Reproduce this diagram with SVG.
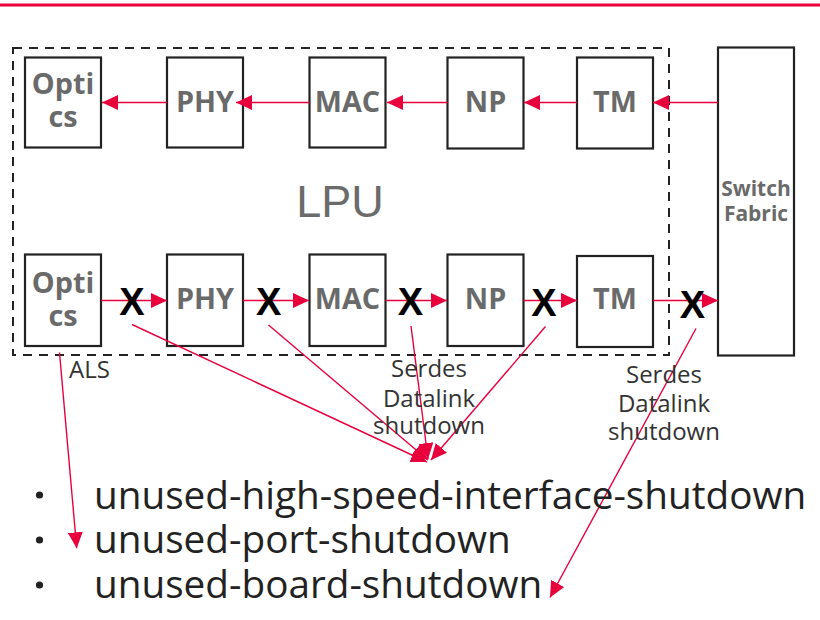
<svg xmlns="http://www.w3.org/2000/svg" width="820" height="620" viewBox="0 0 820 620">
<style>
.box{fill:#fff;stroke:#222;stroke-width:2.2}
.lbl{font-family:"Open Sans","Noto Sans",sans-serif;font-weight:bold;font-size:28.8px;fill:#6a6a6a;text-anchor:middle}
.sw{font-family:"Open Sans","Noto Sans",sans-serif;font-weight:bold;font-size:21px;fill:#6a6a6a;text-anchor:middle}
.cn{stroke:#e8003d;stroke-width:1.4;fill:none;marker-end:url(#ah)}
.x{font-family:"Liberation Sans",Arial,sans-serif;font-weight:bold;font-size:38px;fill:#000;text-anchor:middle}
.note{font-family:"Open Sans","Noto Sans",sans-serif;font-size:24px;fill:#333;text-anchor:middle}
.li{font-family:"Open Sans","Noto Sans",sans-serif;font-size:38.7px;fill:#222}
</style>
<defs>
<marker id="ah" markerUnits="userSpaceOnUse" markerWidth="16" markerHeight="15" viewBox="0 0 16 15" refX="16" refY="7.5" orient="auto">
<path d="M0,0 L16,7.5 L0,15 z" fill="#e8003d"/>
</marker>
</defs>
<rect x="0" y="3.5" width="820" height="3" fill="#e8003d"/>
<rect id="lpu" x="13" y="48" width="656" height="307" fill="none" stroke="#222" stroke-width="2" stroke-dasharray="9 7"/>
<text x="340" y="217" font-family="Liberation Sans,Arial,sans-serif" font-size="45" fill="#6b6b6b" text-anchor="middle">LPU</text>
<g id="optics-top"><rect class="box" x="25" y="57.5" width="76" height="90"/><text class="lbl" x="63" y="94">Opti</text><text class="lbl" x="63" y="127.3">cs</text></g>
<g id="phy-top"><rect class="box" x="167" y="57.5" width="76" height="90"/><text class="lbl" x="205" y="112">PHY</text></g>
<g id="mac-top"><rect class="box" x="309.5" y="57.5" width="76" height="90"/><text class="lbl" x="347.5" y="112">MAC</text></g>
<g id="np-top"><rect class="box" x="447.5" y="57.5" width="76" height="91"/><text class="lbl" x="485.5" y="112">NP</text></g>
<g id="tm-top"><rect class="box" x="577" y="57.5" width="76" height="91"/><text class="lbl" x="615" y="112">TM</text></g>
<g id="switch-fabric"><rect class="box" x="718" y="47.5" width="76" height="308"/><text class="sw" x="756" y="195.7">Switch</text><text class="sw" x="756" y="220.7">Fabric</text></g>
<g id="optics-bot"><rect class="box" x="25" y="254.5" width="76" height="91.5"/><text class="lbl" x="63" y="293.3">Opti</text><text class="lbl" x="63" y="326">cs</text></g>
<g id="phy-bot"><rect class="box" x="167" y="254.5" width="76" height="91.5"/><text class="lbl" x="205" y="308.5">PHY</text></g>
<g id="mac-bot"><rect class="box" x="309.5" y="254.5" width="76" height="91.5"/><text class="lbl" x="347.5" y="308.5">MAC</text></g>
<g id="np-bot"><rect class="box" x="447.5" y="254.5" width="76" height="91.5"/><text class="lbl" x="485.5" y="308.5">NP</text></g>
<g id="tm-bot"><rect class="box" x="577" y="256" width="76" height="91"/><text class="lbl" x="615" y="308.5">TM</text></g>
<g id="connectors">
<line class="cn" x1="718" y1="102.5" x2="653" y2="102.5"/>
<line class="cn" x1="577" y1="102.5" x2="524" y2="102.5"/>
<line class="cn" x1="447.5" y1="102.5" x2="387" y2="102.5"/>
<line class="cn" x1="309.5" y1="102.5" x2="236" y2="102.5"/>
<line class="cn" x1="167" y1="102.5" x2="102" y2="102.5"/>
<line class="cn" x1="101" y1="300.5" x2="167" y2="300.5"/>
<line class="cn" x1="243" y1="300.5" x2="309" y2="300.5"/>
<line class="cn" x1="385.5" y1="300.5" x2="447" y2="300.5"/>
<line class="cn" x1="523.5" y1="300.5" x2="577" y2="300.5"/>
<line class="cn" x1="653" y1="300.5" x2="718" y2="300.5"/>
<line class="cn" x1="59.5" y1="352.5" x2="76.7" y2="548.3"/>
<line class="cn" x1="132" y1="324.5" x2="427" y2="462"/>
<line class="cn" x1="268.5" y1="325" x2="428" y2="460"/>
<line class="cn" x1="411" y1="326" x2="428" y2="459"/>
<line class="cn" x1="545.5" y1="326.5" x2="431" y2="460"/>
<line class="cn" x1="696" y1="328.5" x2="550" y2="597.5"/>
</g>
<text class="x" x="132" y="315">X</text>
<text class="x" x="268.7" y="315">X</text>
<text class="x" x="410.5" y="315">X</text>
<text class="x" x="544" y="316">X</text>
<text class="x" x="692.5" y="318.3">X</text>
<text x="69" y="377.7" font-family="Open Sans,Noto Sans,sans-serif" font-size="24" fill="#333">ALS</text>
<text class="note" x="429" y="377.3">Serdes</text>
<text class="note" x="429" y="406.7">Datalink</text>
<text class="note" x="429" y="434">shutdown</text>
<text class="note" x="664" y="382.7">Serdes</text>
<text class="note" x="664" y="411.7">Datalink</text>
<text class="note" x="664" y="440">shutdown</text>
<circle cx="39.5" cy="495" r="3.6" fill="#222"/>
<circle cx="39.5" cy="540" r="3.6" fill="#222"/>
<circle cx="39.5" cy="585" r="3.6" fill="#222"/>
<text class="li" x="94" y="509.3">unused-high-speed-interface-shutdown</text>
<text class="li" x="94" y="553.3">unused-port-shutdown</text>
<text class="li" x="94" y="598.3">unused-board-shutdown</text>
</svg>
